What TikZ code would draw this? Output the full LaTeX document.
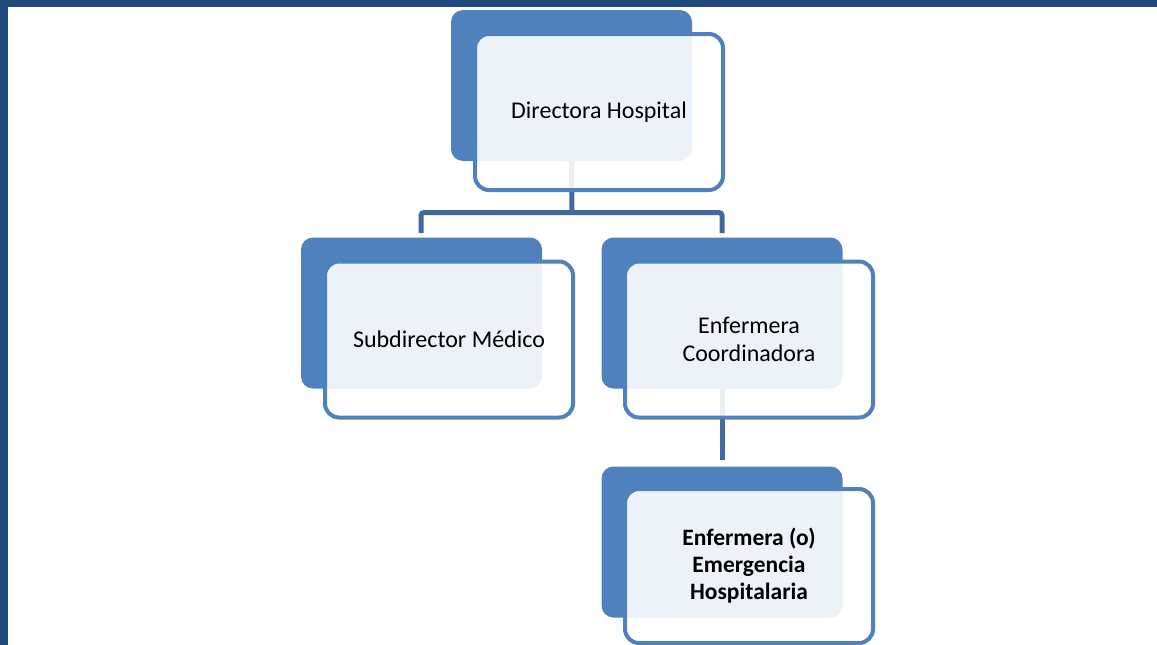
\documentclass[tikz,border=0pt]{standalone}
\usepackage{fontspec}
\setmainfont{Carlito}
\definecolor{backblue}{HTML}{4F81BD}
\definecolor{linkblue}{HTML}{41699E}
\definecolor{frameblue}{HTML}{1F497D}
\begin{document}
\begin{tikzpicture}[x=1pt,y=-1pt,
  back/.style={fill=backblue, rounded corners=12pt, inner sep=0pt, minimum width=241pt, minimum height=151pt},
  front/.style={fill=white, fill opacity=0.9, text opacity=1, draw=backblue, draw opacity=1, line width=4pt, rounded corners=14pt, inner sep=0pt, minimum width=248pt, minimum height=156pt, align=center, font=\fontsize{24}{28.5}\selectfont},
  link/.style={draw=linkblue, line width=5pt, rounded corners=3pt}]
\useasboundingbox (0,0) rectangle (1157,645);
\clip (0,0) rectangle (1157,645);
% frame
\fill[frameblue] (0,0) rectangle (1157,7);
\fill[frameblue] (0,0) rectangle (8,645);
% back rectangles
\node[back] (dirB) at (571.5,85.5) {};
\node[back] (subB) at (421.5,313) {};
\node[back] (coordB) at (722,313) {};
\node[back] (emB) at (722,542) {};
% connectors
\coordinate (j1) at (572,212.5);
\coordinate (subTop) at (421,233);
\coordinate (coordTop) at (722,233);
\coordinate (emTop) at (722,460);
\draw[link] (dirB.south) -- (j1);
\draw[link] (subTop) -- (subTop|-j1) -- (coordTop|-j1) -- (coordTop);
\draw[link] (coordB.south) -- (emTop);
% front rectangles
\node[front] (dir) at (599,112) {Directora Hospital};
\node[front] (sub) at (449,339.5) {Subdirector Médico};
\node[front] (coord) at (749,339.5) {Enfermera\\Coordinadora};
\node[front, minimum height=154pt, font=\fontsize{23.5}{27}\selectfont\bfseries] (em) at (749,566) {Enfermera (o)\\Emergencia\\Hospitalaria};
\end{tikzpicture}
\end{document}
